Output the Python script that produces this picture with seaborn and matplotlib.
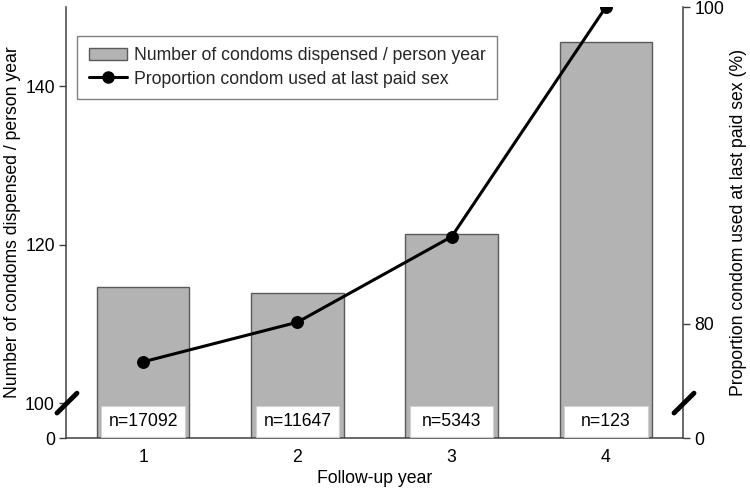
import numpy as np
import seaborn as sns
import matplotlib.pyplot as plt
from matplotlib.patches import Patch, Rectangle
from matplotlib.lines import Line2D
import matplotlib.transforms as mtransforms

years = [1, 2, 3, 4]
condoms_per_py = [114.7, 113.9, 121.4, 145.6]
prop_condom_used = [77.6, 80.1, 85.5, 100.0]
n_labels = ["n=17092", "n=11647", "n=5343", "n=123"]

sns.set_theme(style="white")
plt.rcParams["font.family"] = ["Liberation Sans", "DejaVu Sans"]
FS = 12.7


# broken axis scales: compressed below the break, linear above
def left_fwd(v):
    v = np.asarray(v, dtype=float)
    return np.where(v <= 100, v * 0.35, 35 + (v - 100) * 7.92)


def left_inv(p):
    p = np.asarray(p, dtype=float)
    return np.where(p <= 35, p / 0.35, 100 + (p - 35) / 7.92)


def right_fwd(v):
    v = np.asarray(v, dtype=float)
    return np.where(v <= 75, v * 35 / 75, 35 + (v - 75) * 15.84)


def right_inv(p):
    p = np.asarray(p, dtype=float)
    return np.where(p <= 35, p * 75 / 35, 75 + (p - 35) / 15.84)


fig = plt.figure(figsize=(7.5, 4.9), dpi=100)
ax = fig.add_axes([0.088, 0.1061, 0.8227, 0.8796])
ax2 = ax.twinx()

bar_color = "#b3b3b3"
edge = "#5a5a5a"
spine_c = "#404040"

sns.barplot(x=years, y=condoms_per_py, ax=ax, native_scale=True, width=0.6,
            color=bar_color, saturation=1, edgecolor=edge, linewidth=1)
ax.set_yscale("function", functions=(left_fwd, left_inv))
ax.set_ylim(0, 150)
ax.set_yticks([0, 100, 120, 140])
ax.set_xlim(0.5, 4.5)
ax.set_xticks(years)
ax.set_xticklabels([str(y) for y in years])

sns.lineplot(x=years, y=prop_condom_used, ax=ax2, color="black", marker="o",
             markersize=8.5, markeredgecolor="black", linewidth=2.2, legend=False)
ax2.set_yscale("function", functions=(right_fwd, right_inv))
ax2.set_ylim(0, 100)
ax2.set_yticks([0, 80, 100])
ax2.set_xlim(0.5, 4.5)

# n labels in white boxes at the bottom of each bar
trans = mtransforms.blended_transform_factory(ax.transData, ax.transAxes)
for x, lab in zip(years, n_labels):
    ax.add_patch(Rectangle((x - 0.27, 0.003), 0.54, 0.071, transform=trans,
                           facecolor="white", edgecolor="#d0d0d0", lw=0.8, zorder=3))
    ax.text(x, 0.038, lab, transform=trans, ha="center", va="center",
            fontsize=FS, color="black", zorder=4)

for a in (ax, ax2):
    for s in a.spines.values():
        s.set_color(spine_c)
        s.set_linewidth(1.1)
    a.spines["top"].set_visible(False)
    a.tick_params(direction="out", length=5, width=1, color=spine_c,
                  labelsize=FS, labelcolor="black", pad=3)
    a.grid(False)
ax.spines["right"].set_visible(False)
ax2.spines["left"].set_visible(False)
ax2.spines["bottom"].set_visible(False)
ax.tick_params(axis="x", pad=3)

ax.set_xlabel("Follow-up year", fontsize=FS, color="black", labelpad=3)
ax.set_ylabel("Number of condoms dispensed / person year", fontsize=FS,
              color="black", labelpad=3)
ax2.set_ylabel("Proportion condom used at last paid sex (%)", fontsize=FS,
               color="black", labelpad=4)

# axis break marks
for x0 in (0.0, 1.0):
    ax2.plot([x0 - 0.0146, x0 + 0.0178], [0.058, 0.104], transform=ax2.transAxes,
             color="black", lw=3.5, solid_capstyle="round", clip_on=False, zorder=10)

handles = [
    Patch(facecolor=bar_color, edgecolor=edge, linewidth=1),
    Line2D([0], [0], color="black", lw=2.2, marker="o", markersize=8),
]
labels = ["Number of condoms dispensed / person year",
          "Proportion condom used at last paid sex"]
leg = ax2.legend(handles, labels, loc="upper left", bbox_to_anchor=(0.018, 0.933),
                 borderaxespad=0, fontsize=FS, frameon=True, fancybox=False,
                 framealpha=1, edgecolor="#808080", borderpad=0.65,
                 labelspacing=0.35, handlelength=2.2, handletextpad=0.35)
leg.get_frame().set_linewidth(1)

fig.savefig("out.png", dpi=100)
